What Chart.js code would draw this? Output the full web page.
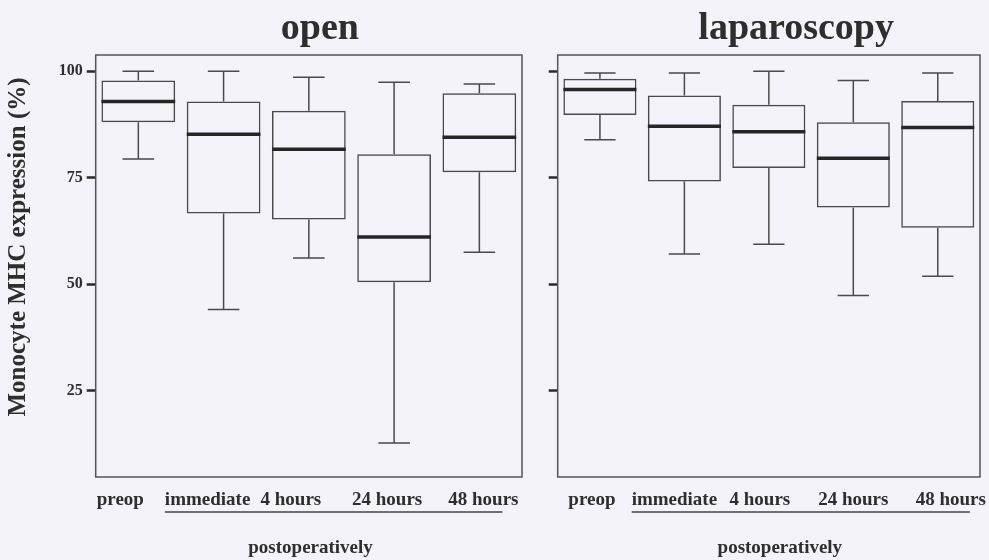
<!DOCTYPE html>
<html><head><meta charset="utf-8">
<script src="https://cdn.jsdelivr.net/npm/chart.js@4.4.1/dist/chart.umd.min.js"></script>
<style>
html,body{margin:0;padding:0;background:#f3f3f9;}
#wrap{position:relative;width:989px;height:560px;overflow:hidden;background:#f3f3f9;}
#c1{position:absolute;left:0;top:0;}
#c2{position:absolute;left:540px;top:0;}
</style></head><body>
<div id="wrap"><canvas id="c1" width="540" height="560"></canvas><canvas id="c2" width="449" height="560"></canvas></div>
<script>
// ---- data ----
const categories = ['preop', 'immediate', '4 hours', '24 hours', '48 hours'];
const yTicks = [25, 50, 75, 100];
const openMin    = [79.4, 44.1, 56.2, 12.8, 57.5];
const openQ1     = [88.0, 66.6, 65.2, 50.5, 76.3];
const openMedian = [92.9, 85.2, 81.7, 61.1, 84.5];
const openQ3     = [97.8, 92.9, 90.7, 80.5, 94.8];
const openMax    = [100.0, 100.0, 98.6, 97.4, 97.0];
const lapMin     = [83.9, 57.1, 59.4, 47.4, 51.9];
const lapQ1      = [89.7, 74.1, 77.3, 68.0, 63.3];
const lapMedian  = [95.7, 87.1, 85.8, 79.6, 86.8];
const lapQ3      = [98.2, 94.3, 92.1, 88.0, 93.0];
const lapMax     = [99.6, 99.6, 100.0, 97.8, 99.6];

// ---- styles ----
const SERIF = "'Liberation Serif', 'Times New Roman', serif";
const INK = '#2e2e2e';
const LINE = '#4a4a4a';

const boxParts = {
  id: 'boxParts',
  afterDatasetsDraw(chart, args, o) {
    const ctx = chart.ctx, x = chart.scales.x, y = chart.scales.y;
    const meta = chart.getDatasetMeta(0);
    const catW = x.getPixelForValue(1) - x.getPixelForValue(0);
    const capHalf = catW * o.capFraction / 2;
    ctx.save();
    meta.data.forEach((bar, i) => {
      const cx = bar.x, half = bar.width / 2;
      const pMin = y.getPixelForValue(o.min[i]), pMax = y.getPixelForValue(o.max[i]);
      const pQ1 = y.getPixelForValue(o.q1[i]), pQ3 = y.getPixelForValue(o.q3[i]);
      const pMed = y.getPixelForValue(o.median[i]);
      ctx.strokeStyle = LINE; ctx.lineWidth = 1.5;
      ctx.beginPath();
      ctx.moveTo(cx, pQ3); ctx.lineTo(cx, pMax);
      ctx.moveTo(cx, pQ1); ctx.lineTo(cx, pMin);
      ctx.moveTo(cx - capHalf, pMax); ctx.lineTo(cx + capHalf, pMax);
      ctx.moveTo(cx - capHalf, pMin); ctx.lineTo(cx + capHalf, pMin);
      ctx.stroke();
      ctx.strokeStyle = '#262626'; ctx.lineWidth = 3.5;
      ctx.beginPath();
      ctx.moveTo(cx - half, pMed); ctx.lineTo(cx + half, pMed);
      ctx.stroke();
    });
    ctx.restore();
  }
};

const decor = {
  id: 'decor',
  beforeDraw(chart, args, o) {
    const items = chart.scales.x.getLabelItems(chart.chartArea);
    if (!items.__shifted) {
      items.forEach((it, i) => { it.options.translation[0] += o.labelShift[i]; });
      items.__shifted = true;
    }
  },
  afterDraw(chart, args, o) {
    const ctx = chart.ctx, ca = chart.chartArea;
    const cx = (ca.left + ca.right) / 2;
    ctx.save();
    // frame
    ctx.strokeStyle = '#555'; ctx.lineWidth = 1.5;
    ctx.strokeRect(ca.left, ca.top, ca.right - ca.left, ca.bottom - ca.top);
    // texts
    ctx.fillStyle = INK;
    o.texts.forEach(t => {
      ctx.font = t.font;
      ctx.textAlign = 'center';
      ctx.textBaseline = t.baseline || 'alphabetic';
      if (t.rotate) {
        ctx.save(); ctx.translate(t.x, t.y); ctx.rotate(-Math.PI / 2);
        ctx.fillText(t.text, 0, 0); ctx.restore();
      } else {
        ctx.fillText(t.text, cx + t.dx, t.y);
      }
    });
    // underline under the postoperative labels
    const items = chart.scales.x.getLabelItems(chart.chartArea);
    const a = items[1], b = items[items.length - 1];
    ctx.font = a.font.string;
    const x0 = a.options.translation[0] - ctx.measureText(a.label).width / 2;
    const x1 = b.options.translation[0] + ctx.measureText(b.label).width / 2 - o.underlineTrim;
    ctx.strokeStyle = '#444'; ctx.lineWidth = 1.5;
    ctx.beginPath(); ctx.moveTo(x0, o.underlineY); ctx.lineTo(x1, o.underlineY); ctx.stroke();
    ctx.restore();
  }
};

function makeChart(canvas, s) {
  return new Chart(canvas, {
    type: 'bar',
    data: {
      labels: categories,
      datasets: [{
        data: s.q1.map((v, i) => [v, s.q3[i]]),
        backgroundColor: 'rgba(0,0,0,0)',
        borderColor: LINE,
        borderWidth: 1.5,
        borderSkipped: false,
        barPercentage: 0.865,
        categoryPercentage: 1
      }]
    },
    options: {
      responsive: false,
      animation: false,
      events: [],
      layout: { padding: { top: 55, right: s.padRight, left: 0, bottom: 0 } },
      scales: {
        x: {
          type: 'category',
          offset: true,
          grid: { display: false, drawTicks: false },
          border: { display: false },
          ticks: { color: INK, font: { family: SERIF, size: 19, weight: 'bold' }, padding: 12, maxRotation: 0, autoSkip: false },
          afterFit: sc => { sc.height = 83; }
        },
        y: {
          type: 'linear',
          min: 4.8, max: 103.8,
          afterBuildTicks: sc => { sc.ticks = yTicks.map(v => ({ value: v })); },
          grid: { drawOnChartArea: false, drawTicks: true, tickLength: 9, tickWidth: 2.5, tickColor: '#2a2a2a' },
          border: { display: false },
          ticks: { display: s.showY, color: INK, font: { family: SERIF, size: 16, weight: 'bold' }, padding: 4 },
          afterFit: sc => { sc.width = s.yWidth; }
        }
      },
      plugins: {
        legend: { display: false },
        tooltip: { enabled: false },
        title: { display: false },
        boxParts: { min: s.min, q1: s.q1, median: s.median, q3: s.q3, max: s.max, capFraction: 0.37 },
        decor: { texts: s.texts, labelShift: s.labelShift, underlineY: 512, underlineTrim: 16 }
      }
    },
    plugins: [boxParts, decor]
  });
}

makeChart(document.getElementById('c1'), {
  min: openMin, q1: openQ1, median: openMedian, q3: openQ3, max: openMax,
  padRight: 18, yWidth: 95.7, showY: true,
  labelShift: [-18, -16, -18, -7, 4],
  texts: [
    { text: 'open', font: 'bold 38px ' + SERIF, dx: 11, y: 38.5 },
    { text: 'postoperatively', font: 'bold 19px ' + SERIF, dx: 1.7, y: 553 },
    { text: 'Monocyte MHC expression (%)', font: 'bold 25px ' + SERIF, rotate: true, x: 18.5, y: 247, baseline: 'middle' }
  ]
});
makeChart(document.getElementById('c2'), {
  min: lapMin, q1: lapQ1, median: lapMedian, q3: lapQ3, max: lapMax,
  padRight: 9, yWidth: 17.7, showY: false,
  labelShift: [-8, -10, -9, 0, 13],
  texts: [
    { text: 'laparoscopy', font: 'bold 38px ' + SERIF, dx: 27.3, y: 38.5 },
    { text: 'postoperatively', font: 'bold 19px ' + SERIF, dx: 11, y: 553 }
  ]
});
</script>
</body></html>
